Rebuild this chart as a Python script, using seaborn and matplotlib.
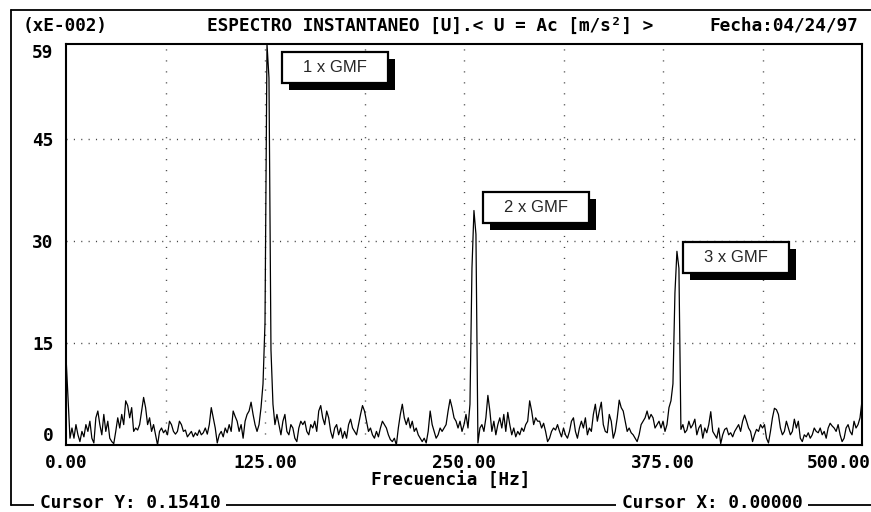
import matplotlib
matplotlib.use("Agg")
import matplotlib.pyplot as plt
import matplotlib.transforms as mtrans
from matplotlib.patches import Rectangle
import numpy as np
import pandas as pd
import seaborn as sns

# ---------------- data ----------------
FREQ_STEP = 1.25  # Hz between spectral lines (0 .. 500 Hz)

amp_000_100 = [
    13.0, 7.0, 1.0, 2.5, 1.0, 3.0, 1.5, 0.5, 2.0, 1.2, 3.0, 2.0, 3.5, 1.0, 0.3, 4.0, 5.0, 3.0, 1.5, 4.5,
    2.0, 3.5, 1.0, 0.5, 0.2, 2.0, 4.0, 2.5, 4.5, 3.0, 6.5, 5.8, 4.0, 5.5, 2.0, 2.5, 2.2, 3.0, 5.0, 7.0,
    5.5, 3.0, 4.0, 2.0, 3.0, 1.5, 0.0, 2.0, 2.5, 1.8, 2.2, 1.5, 3.5, 3.0, 2.0, 1.6, 2.0, 3.5, 3.0, 2.0,
    2.2, 1.2, 1.6, 2.0, 1.2, 1.8, 1.4, 2.2, 1.5, 1.8, 2.5, 1.6, 3.0, 5.5, 4.0, 2.5, 0.3, 1.5, 2.0, 1.2,
]
amp_100_200 = [
    2.5, 1.8, 3.0, 2.0, 5.0, 4.2, 3.5, 2.0, 3.0, 1.0, 3.5, 4.5, 5.0, 6.3, 4.5, 3.0, 2.0, 3.0, 5.5, 9.0,
    18.0, 59.0, 54.0, 14.0, 6.0, 3.0, 4.5, 3.0, 1.5, 3.5, 4.5, 2.0, 1.5, 3.0, 2.5, 1.0, 0.5, 2.5, 3.5, 3.0,
    3.5, 2.0, 1.5, 3.0, 2.5, 3.5, 2.0, 5.0, 5.8, 4.0, 3.0, 5.0, 4.0, 2.0, 1.0, 2.5, 3.0, 1.5, 2.5, 1.0,
    2.0, 1.0, 3.0, 3.8, 2.5, 2.0, 1.5, 3.0, 4.5, 5.8, 5.0, 3.5, 2.0, 2.5, 1.5, 1.0, 2.0, 1.2, 2.5, 3.5,
]
amp_200_300 = [
    3.0, 2.5, 1.5, 0.8, 0.5, 1.0, 0.0, 2.5, 4.5, 6.0, 4.0, 3.0, 4.0, 2.5, 3.5, 2.0, 2.5, 1.5, 1.0, 0.5,
    1.0, 0.3, 2.0, 5.0, 3.0, 2.0, 1.0, 1.5, 2.5, 2.0, 2.5, 3.0, 5.0, 6.7, 5.5, 4.0, 3.5, 2.5, 3.5, 2.0,
    3.0, 4.5, 2.5, 6.0, 26.0, 34.5, 31.0, 0.3, 2.5, 3.0, 2.0, 4.0, 7.3, 5.0, 2.0, 3.5, 1.5, 3.0, 4.0, 2.5,
    4.5, 2.0, 4.8, 3.0, 1.5, 2.5, 1.2, 2.0, 1.5, 2.5, 2.0, 3.0, 3.5, 6.5, 5.0, 3.0, 4.0, 3.5, 3.5, 2.5,
]
amp_300_400 = [
    3.2, 2.0, 0.5, 1.0, 2.0, 2.5, 2.2, 3.0, 2.0, 1.2, 2.5, 1.5, 1.0, 2.0, 3.5, 4.0, 2.0, 1.0, 2.5, 3.5,
    2.5, 4.0, 1.5, 2.5, 2.0, 4.5, 6.0, 3.5, 5.0, 6.3, 3.0, 2.0, 1.8, 4.5, 3.5, 1.0, 2.0, 4.0, 6.6, 5.5,
    5.0, 3.5, 2.0, 2.5, 1.8, 1.5, 1.0, 0.5, 1.5, 3.0, 3.5, 4.0, 5.0, 3.8, 4.5, 4.0, 2.5, 3.0, 3.5, 2.5,
    3.5, 2.0, 3.0, 5.5, 6.5, 9.0, 22.4, 28.5, 26.0, 2.3, 3.0, 1.8, 2.2, 3.5, 2.5, 3.0, 3.8, 1.5, 2.5, 3.0,
]
amp_400_500 = [
    1.0, 2.5, 1.8, 3.0, 4.9, 2.0, 1.5, 1.0, 2.5, 0.2, 1.5, 2.3, 2.5, 1.5, 1.8, 1.2, 2.0, 2.5, 3.0, 2.0,
    3.5, 4.4, 3.5, 2.5, 2.0, 0.5, 1.5, 2.3, 2.0, 3.0, 2.5, 3.0, 1.0, 0.3, 2.0, 4.0, 5.4, 5.2, 4.5, 2.5,
    1.5, 2.0, 3.5, 2.5, 1.5, 2.0, 3.8, 2.5, 3.5, 1.0, 0.5, 1.5, 1.2, 1.8, 1.0, 1.5, 2.5, 2.0, 1.8, 2.5,
    1.5, 2.0, 1.0, 2.5, 3.2, 2.8, 2.5, 2.0, 3.0, 1.5, 0.5, 1.0, 2.5, 3.0, 2.0, 1.5, 3.5, 2.5, 3.0, 4.0, 6.5,
]

x_ticks = [0, 125, 250, 375, 500]
x_tick_labels = ["0.00", "125.00", "250.00", "375.00", "500.00"]
y_ticks = [0, 15, 30, 45, 59]
y_tick_labels = ["0", "15", "30", "45", "59"]
x_grid = [62.5, 125, 187.5, 250, 312.5, 375, 437.5]
y_grid = [15, 30, 45]

peak_labels = ["1 x GMF", "2 x GMF", "3 x GMF"]
label_left = [135.7, 262.0, 387.6]   # Hz
label_top = [57.8, 37.2, 29.9]       # amplitude units

# ---------------- build ----------------
amp = amp_000_100 + amp_100_200 + amp_200_300 + amp_300_400 + amp_400_500
freq = np.arange(len(amp)) * FREQ_STEP
df = pd.DataFrame({"freq": freq, "amp": amp})

sns.set_theme(style="white")
plt.rcParams["font.family"] = ["DejaVu Sans Mono", "DejaVu Sans"]

W, H = 871, 512
fig = plt.figure(figsize=(W / 100, H / 100), dpi=100)
fig.patch.set_facecolor("white")
ax = fig.add_axes([66 / W, 1 - 445 / H, 796 / W, 401 / H])
ax.set_facecolor("white")

# grid
for gx in x_grid:
    ax.axvline(gx, color="#444444", lw=1.0, dashes=(0.8, 7.1), zorder=1)
for gy in y_grid:
    ax.axhline(gy, color="#444444", lw=1.0, dashes=(0.8, 4.5), zorder=1)

sns.lineplot(data=df, x="freq", y="amp", ax=ax, color="black", lw=0.9, zorder=3)

ax.set_xlim(0, 500)
ax.set_ylim(0, 59)
ax.set_xlabel("")
ax.set_ylabel("")
ax.set_xticks(x_ticks)
ax.set_xticklabels(x_tick_labels)
ax.set_yticks(y_ticks)
ax.set_yticklabels(y_tick_labels)
ax.tick_params(length=0, labelsize=12.8, colors="black")
ax.tick_params(axis="x", pad=6.5)
ax.tick_params(axis="y", pad=9)
for lab in ax.get_xticklabels() + ax.get_yticklabels():
    lab.set_fontweight("bold")
xl = ax.get_xticklabels()
xl[-1].set_horizontalalignment("right")
xl[-1].set_transform(xl[-1].get_transform() + mtrans.ScaledTranslation(9 / 100, 0, fig.dpi_scale_trans))
yl = ax.get_yticklabels()
yl[0].set_verticalalignment("bottom")
yl[-1].set_verticalalignment("top")
for sp in ax.spines.values():
    sp.set_visible(True)
    sp.set_color("black")
    sp.set_linewidth(1.5)

# annotation boxes with drop shadow
px_x = 500 / 796
px_y = 59 / 401
bw, bh = 106 * px_x, 31 * px_y
for lab, lx, ty in zip(peak_labels, label_left, label_top):
    ax.add_patch(Rectangle((lx + 7 * px_x, ty - bh - 7 * px_y), bw, bh,
                           facecolor="black", edgecolor="black", lw=0, zorder=5, clip_on=False))
    ax.add_patch(Rectangle((lx, ty - bh), bw, bh, facecolor="white",
                           edgecolor="black", lw=1.6, zorder=6, clip_on=False))
    ax.text(lx + bw / 2, ty - bh / 2, lab, ha="center", va="center",
            fontsize=12, family=["Liberation Sans", "DejaVu Sans"], zorder=7)

# figure texts
mono = dict(fontsize=12.8, fontweight="bold", color="black")
fig.text(23 / W, 1 - 26 / H, "(xE-002)", ha="left", va="center", **mono)
fig.text(207 / W, 1 - 26 / H, "ESPECTRO INSTANTANEO [U].< U = Ac [m/s²] >",
         ha="left", va="center", **mono)
fig.text(858 / W, 1 - 26 / H, "Fecha:04/24/97", ha="right", va="center", **mono)
fig.text(451 / W, 1 - 481 / H, "Frecuencia [Hz]", ha="center", va="center", **mono)

# outer frame
frame_kw = dict(color="black", lw=1.3, transform=fig.transFigure)
fig.add_artist(plt.Line2D([11 / W, 1], [1 - 10 / H, 1 - 10 / H], **frame_kw))
fig.add_artist(plt.Line2D([11 / W, 11 / W], [1 - 10 / H, 1 - 505 / H], **frame_kw))
fig.add_artist(plt.Line2D([11 / W, 1], [1 - 505 / H, 1 - 505 / H], **frame_kw))
box_kw = dict(facecolor="white", edgecolor="none", pad=4.0)
cur = dict(fontsize=12.8, fontweight="bold", color="black")
fig.text(40 / W, 1 - 503 / H, "Cursor Y: 0.15410", ha="left", va="center",
         bbox=box_kw, **cur)
fig.text(622 / W, 1 - 503 / H, "Cursor X: 0.00000", ha="left", va="center",
         bbox=box_kw, **cur)

fig.savefig("out.png", dpi=100, facecolor="white")
